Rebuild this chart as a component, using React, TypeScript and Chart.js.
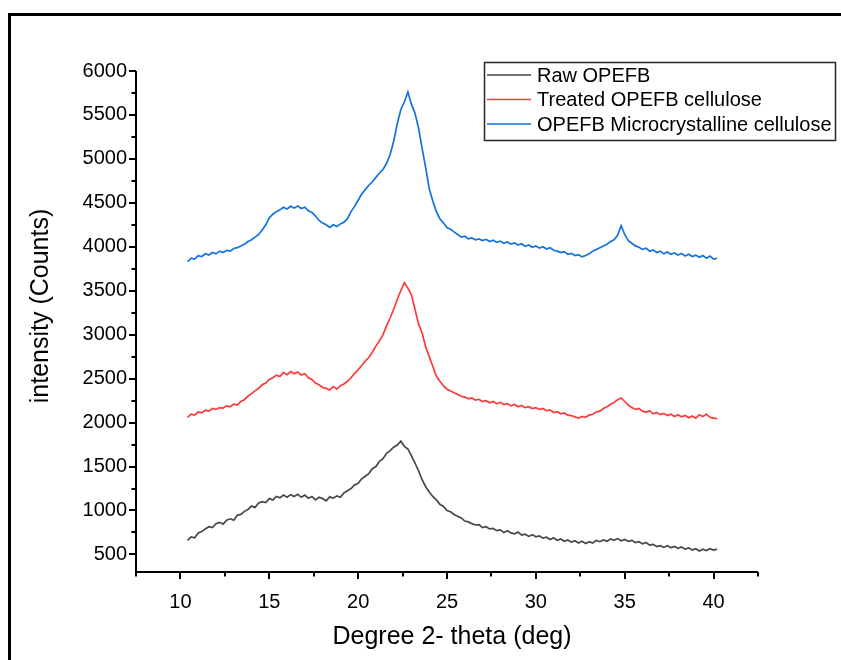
import React, { useEffect, useRef } from 'react';
import { Chart, registerables } from 'chart.js';

Chart.register(...registerables);

// 2-theta positions (deg)
const theta = [
  10.4, 10.6, 10.8, 11.0, 11.2, 11.4, 11.6, 11.8, 12.0, 12.2,
  12.4, 12.6, 12.8, 13.0, 13.2, 13.4, 13.6, 13.8, 14.0, 14.2,
  14.4, 14.6, 14.8, 15.0, 15.2, 15.4, 15.6, 15.8, 16.0, 16.2,
  16.4, 16.6, 16.8, 17.0, 17.2, 17.4, 17.6, 17.8, 18.0, 18.2,
  18.4, 18.6, 18.8, 19.0, 19.2, 19.4, 19.6, 19.8, 20.0, 20.2,
  20.4, 20.6, 20.8, 21.0, 21.2, 21.4, 21.6, 21.8, 22.0, 22.2,
  22.4, 22.6, 22.8, 23.0, 23.2, 23.4, 23.6, 23.8, 24.0, 24.2,
  24.4, 24.6, 24.8, 25.0, 25.2, 25.4, 25.6, 25.8, 26.0, 26.2,
  26.4, 26.6, 26.8, 27.0, 27.2, 27.4, 27.6, 27.8, 28.0, 28.2,
  28.4, 28.6, 28.8, 29.0, 29.2, 29.4, 29.6, 29.8, 30.0, 30.2,
  30.4, 30.6, 30.8, 31.0, 31.2, 31.4, 31.6, 31.8, 32.0, 32.2,
  32.4, 32.6, 32.8, 33.0, 33.2, 33.4, 33.6, 33.8, 34.0, 34.2,
  34.4, 34.6, 34.8, 35.0, 35.2, 35.4, 35.6, 35.8, 36.0, 36.2,
  36.4, 36.6, 36.8, 37.0, 37.2, 37.4, 37.6, 37.8, 38.0, 38.2,
  38.4, 38.6, 38.8, 39.0, 39.2, 39.4, 39.6, 39.8, 40.0, 40.2,
];

const rawOPEFB = [
  660, 700, 690, 745, 760, 790, 815, 805, 850, 865,
  845, 890, 905, 890, 945, 955, 990, 1010, 1050, 1035,
  1085, 1100, 1090, 1135, 1120, 1160, 1145, 1175, 1150, 1180,
  1160, 1185, 1150, 1175, 1140, 1160, 1120, 1150, 1135, 1110,
  1155, 1140, 1165, 1150, 1200, 1225, 1250, 1290, 1310, 1360,
  1390, 1420, 1475, 1500, 1560, 1590, 1650, 1680, 1720, 1745,
  1790, 1730, 1700, 1620, 1540, 1450, 1350, 1270, 1210, 1160,
  1120, 1070, 1045, 1000, 985, 955, 935, 915, 880, 870,
  850, 835, 840, 805, 815, 790, 795, 770, 780, 750,
  770, 745, 735, 755, 720, 730, 705, 725, 700, 710,
  685, 695, 670, 690, 660, 675, 650, 665, 640, 655,
  630, 650, 625, 645, 630, 660, 645, 665, 650, 675,
  660, 680, 655, 670, 650, 660, 635, 645, 620, 635,
  605, 615, 590, 600, 580, 600, 575, 590, 570, 585,
  560, 575, 550, 565, 540, 560, 545, 565, 550, 560,
];

const treatedCellulose = [
  2060, 2095, 2085, 2120, 2110, 2140, 2130, 2160, 2150, 2170,
  2165, 2190, 2180, 2210, 2200, 2240, 2260, 2300, 2330, 2360,
  2390, 2430, 2450, 2490, 2510, 2540, 2525, 2570, 2545, 2580,
  2555, 2575, 2540, 2555, 2510, 2490, 2450, 2430, 2400, 2390,
  2370, 2410, 2380, 2420, 2440, 2470, 2510, 2560, 2600, 2650,
  2700, 2740, 2800, 2870, 2930, 3000, 3100, 3190, 3290, 3400,
  3500, 3590, 3530, 3450, 3290, 3120, 3020, 2860, 2750, 2640,
  2530, 2470, 2420, 2380, 2360, 2340, 2320, 2300, 2290, 2270,
  2280, 2255, 2265, 2240, 2250, 2225, 2240, 2215, 2230, 2205,
  2215, 2190, 2205, 2180, 2195, 2170, 2180, 2160, 2170, 2150,
  2160, 2135, 2145, 2115, 2125, 2100, 2110, 2085, 2080, 2065,
  2050, 2070, 2060, 2085, 2095, 2120, 2130, 2160, 2180, 2205,
  2230, 2260, 2280, 2240, 2200, 2170, 2150, 2160, 2130, 2120,
  2135, 2100, 2115, 2090, 2105, 2080, 2095, 2070, 2090, 2065,
  2080, 2055, 2075, 2050, 2090, 2070, 2095, 2060, 2050, 2045,
];

const microCellulose = [
  3830, 3870, 3860, 3900, 3890, 3920, 3905, 3935, 3920, 3950,
  3935, 3960, 3950, 3980, 3990, 4010, 4030, 4060, 4080, 4110,
  4140, 4190, 4250, 4330, 4370, 4400, 4420, 4450, 4430, 4460,
  4440, 4465, 4435, 4450, 4410, 4390, 4350, 4300, 4270, 4250,
  4220, 4250, 4230, 4260, 4280, 4320, 4400, 4460, 4530, 4600,
  4650, 4700, 4740, 4790, 4840, 4880, 4950, 5050, 5200, 5400,
  5560, 5650, 5760, 5620, 5520, 5350, 5120, 4900, 4660, 4520,
  4400, 4320, 4270, 4220, 4200, 4170, 4140, 4110, 4120, 4090,
  4100, 4080, 4090, 4070, 4085, 4060, 4075, 4050, 4065, 4040,
  4055, 4030, 4045, 4020, 4035, 4005, 4020, 3995, 4010, 3985,
  4000, 3975, 3990, 3960, 3950, 3935, 3945, 3915, 3925, 3900,
  3910, 3885, 3900, 3920, 3950, 3970, 3990, 4010, 4030, 4060,
  4080, 4130, 4240, 4140, 4070, 4040, 4010, 3995, 3970, 3985,
  3950, 3965, 3935, 3950, 3920, 3940, 3915, 3930, 3905, 3925,
  3895, 3915, 3890, 3905, 3880, 3900, 3870, 3895, 3860, 3870,
];

const seriesLabels = ['Raw OPEFB', 'Treated OPEFB cellulose', 'OPEFB Microcrystalline cellulose'];
const seriesColors = ['#474747', '#ff3838', '#1172e0'];
const xMajorTicks = [10, 15, 20, 25, 30, 35, 40];
const xMinorTicks = [7.5, 12.5, 17.5, 22.5, 27.5, 32.5, 37.5, 42.5];
const yMajorTicks = [500, 1000, 1500, 2000, 2500, 3000, 3500, 4000, 4500, 5000, 5500, 6000];
const yMinorTicks = [750, 1250, 1750, 2250, 2750, 3250, 3750, 4250, 4750, 5250, 5750];
const xTitle = 'Degree 2- theta (deg)';
const yTitle = 'intensity (Counts)';

const FONT = '"Liberation Sans", Arial, sans-serif';

const decorPlugin = {
  id: 'decor',
  afterDraw(chart: any) {
    const ctx = chart.ctx as CanvasRenderingContext2D;
    const xs = chart.scales.x;
    const ys = chart.scales.y;
    const area = chart.chartArea;
    ctx.save();
    ctx.strokeStyle = '#000';
    ctx.fillStyle = '#000';

    // axis lines
    ctx.lineWidth = 2;
    ctx.beginPath();
    ctx.moveTo(area.left, area.top);
    ctx.lineTo(area.left, area.bottom);
    ctx.lineTo(area.right, area.bottom);
    ctx.stroke();

    // ticks
    ctx.lineWidth = 2;
    ctx.beginPath();
    for (const v of xMajorTicks) {
      const px = Math.round(xs.getPixelForValue(v));
      ctx.moveTo(px, area.bottom);
      ctx.lineTo(px, area.bottom + 7);
    }
    for (const v of xMinorTicks) {
      const px = Math.round(xs.getPixelForValue(v));
      ctx.moveTo(px, area.bottom);
      ctx.lineTo(px, area.bottom + 4.5);
    }
    for (const v of yMajorTicks) {
      const py = Math.round(ys.getPixelForValue(v));
      ctx.moveTo(area.left, py);
      ctx.lineTo(area.left - 7, py);
    }
    for (const v of yMinorTicks) {
      const py = Math.round(ys.getPixelForValue(v));
      ctx.moveTo(area.left, py);
      ctx.lineTo(area.left - 4.5, py);
    }
    ctx.stroke();

    // axis titles
    ctx.font = `25px ${FONT}`;
    ctx.textAlign = 'center';
    ctx.textBaseline = 'middle';
    ctx.fillText(xTitle, (area.left + area.right) / 2 + 5, 637);
    ctx.save();
    ctx.translate(41, 306);
    ctx.rotate(-Math.PI / 2);
    ctx.fillText(yTitle, 0, 0);
    ctx.restore();

    // legend
    const lx = 484.5, ly = 62.5, lw = 351, lh = 78;
    ctx.fillStyle = '#fff';
    ctx.fillRect(lx, ly, lw, lh);
    ctx.strokeStyle = '#262626';
    ctx.lineWidth = 1.5;
    ctx.strokeRect(lx, ly, lw, lh);
    ctx.font = `20px ${FONT}`;
    ctx.textAlign = 'left';
    ctx.textBaseline = 'middle';
    chart.data.datasets.forEach((ds: any, i: number) => {
      const yy = 75 + i * 24.5;
      ctx.strokeStyle = ds.borderColor;
      ctx.lineWidth = 1.5;
      ctx.beginPath();
      ctx.moveTo(487, yy);
      ctx.lineTo(531, yy);
      ctx.stroke();
      ctx.fillStyle = '#000';
      ctx.fillText(ds.label, 537, yy + 1);
    });

    // outer frame
    ctx.strokeStyle = '#000';
    ctx.lineWidth = 3;
    ctx.strokeRect(9.5, 14.5, 900, 700);
    ctx.restore();
  },
};

export default function App() {
  const canvasRef = useRef<HTMLCanvasElement | null>(null);

  useEffect(() => {
    const canvas = canvasRef.current;
    if (!canvas) return;
    const seriesValues = [rawOPEFB, treatedCellulose, microCellulose];
    const chart = new Chart(canvas, {
      type: 'line',
      data: {
        datasets: seriesValues.map((vals, i) => ({
          label: seriesLabels[i],
          data: theta.map((t, j) => ({ x: t, y: vals[j] })),
          borderColor: seriesColors[i],
          backgroundColor: seriesColors[i],
          borderWidth: 1.7,
          pointRadius: 0,
          tension: 0,
          fill: false,
        })),
      },
      options: {
        animation: false,
        responsive: false,
        maintainAspectRatio: false,
        devicePixelRatio: 1,
        layout: { padding: { left: 0, top: 71, right: 83, bottom: 0 } },
        plugins: {
          legend: { display: false },
          tooltip: { enabled: false },
        },
        scales: {
          x: {
            type: 'linear',
            min: 7.5,
            max: 42.5,
            grid: { display: false, drawTicks: false },
            border: { display: false },
            afterBuildTicks: (s: any) => {
              s.ticks = xMajorTicks.map((v) => ({ value: v }));
            },
            afterFit: (s: any) => {
              s.height = 88;
            },
            ticks: {
              autoSkip: false,
              maxRotation: 0,
              padding: 18,
              color: '#000',
              font: { family: FONT, size: 20 },
              callback: (v: any) => String(v),
            },
          },
          y: {
            type: 'linear',
            min: 300,
            max: 6000,
            grid: { display: false, drawTicks: false },
            border: { display: false },
            afterBuildTicks: (s: any) => {
              s.ticks = yMajorTicks.map((v) => ({ value: v }));
            },
            afterFit: (s: any) => {
              s.width = 136;
            },
            ticks: {
              autoSkip: false,
              padding: 9,
              color: '#000',
              font: { family: FONT, size: 20 },
              callback: (v: any) => String(v),
            },
          },
        },
      },
      plugins: [decorPlugin],
    } as any);
    return () => chart.destroy();
  }, []);

  return (
    <div style={{ position: 'fixed', left: 0, top: 0, width: 841, height: 660, background: '#fff' }}>
      <canvas ref={canvasRef} width={841} height={660} style={{ width: 841, height: 660, display: 'block' }} />
    </div>
  );
}
